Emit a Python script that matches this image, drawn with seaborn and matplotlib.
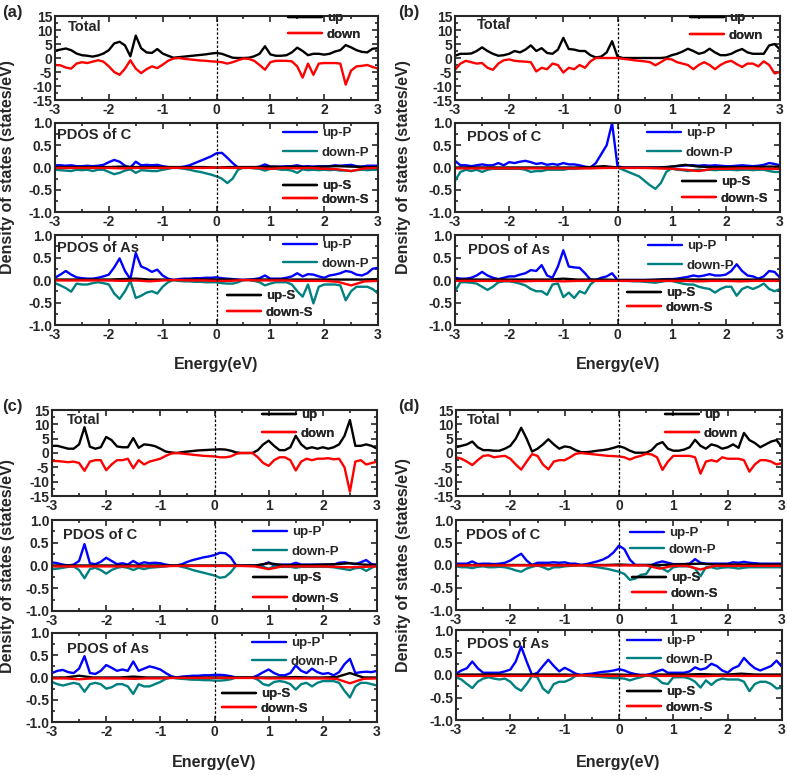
import matplotlib
matplotlib.use('Agg')
import matplotlib.pyplot as plt
import numpy as np
import seaborn as sns
from matplotlib.ticker import MultipleLocator, FormatStrFormatter

sns.set_style('ticks')
plt.rcParams['font.family'] = ['Liberation Sans', 'DejaVu Sans']
plt.rcParams['font.weight'] = 'bold'
plt.rcParams['axes.unicode_minus'] = False

# energy grids (eV): fine grid for total / p states, coarse grid for s states
E = np.round(np.arange(-3, 3.001, 0.1), 2)
E_S = np.round(np.arange(-3, 3.001, 0.25), 2)

# ----------------------------------------------------------------------------
#   (a)
# ----------------------------------------------------------------------------
a_tot_up = [2.6, 3.0, 3.4, 2.8, 1.6, 1.0, 0.8, 0.5, 0.9, 1.6,
            2.8, 5.2, 5.8, 4.5, 0.6, 8.0, 3.5, 2.0, 1.8, 3.2,
            1.6, 0.8, 0.1, 0.3, 0.5, 0.7, 0.9, 1.1, 1.3, 1.6,
            1.8, 1.5, 0.8, 0.1, 0.0, 0.0, 0.1, 0.6, 1.5, 4.2,
            1.3, 0.8, 0.8, 1.0, 2.0, 3.7, 2.5, 1.0, 1.5, 1.5,
            1.2, 1.5, 2.3, 2.8, 4.6, 3.8, 2.8, 2.2, 2.0, 3.3,
            3.5]
a_tot_dn = [-2.5, -2.6, -3.4, -3.8, -2.0, -1.5, -1.8, -1.3, -0.8, -1.3,
            -3.0, -5.0, -6.0, -3.8, -0.8, -3.8, -5.4, -4.0, -3.0, -3.6,
            -2.4, -1.0, -0.2, 0.0, -0.3, -0.5, -0.7, -0.9, -1.0, -1.2,
            -1.3, -1.5, -2.0, -1.5, -0.8, -0.2, -0.3, -1.0, -2.5, -4.2,
            -1.5, -1.0, -1.0, -1.0, -1.2, -3.0, -7.0, -2.0, -6.0, -2.0,
            -1.8, -1.8, -1.8, -2.0, -9.5, -4.5, -3.0, -2.8, -2.5, -3.2,
            -3.8]
a_c_upP = [0.05, 0.05, 0.04, 0.05, 0.03, 0.03, 0.04, 0.03, 0.04, 0.06,
           0.12, 0.17, 0.13, 0.04, 0.0, 0.13, 0.05, 0.06, 0.05, 0.06,
           0.03, 0.01, 0.0, 0.0, 0.02, 0.05, 0.1, 0.15, 0.2, 0.25,
           0.32, 0.33, 0.22, 0.1, 0.0, 0.0, 0.0, 0.0, 0.02, 0.07,
           0.02, 0.02, 0.02, 0.03, 0.03, 0.05, 0.02, 0.03, 0.02, 0.03,
           0.03, 0.03, 0.05, 0.04, 0.05, 0.06, 0.03, 0.02, 0.04, 0.04,
           0.04]
a_c_dnP = [-0.05, -0.06, -0.07, -0.08, -0.05, -0.06, -0.05, -0.08, -0.05, -0.05,
           -0.1, -0.15, -0.12, -0.07, -0.04, -0.12, -0.06, -0.07, -0.08, -0.08,
           -0.05, -0.03, 0.0, -0.01, -0.03, -0.05, -0.08, -0.1, -0.13, -0.16,
           -0.2, -0.25, -0.35, -0.25, -0.05, 0.0, 0.0, -0.02, -0.03, -0.07,
           -0.03, -0.03, -0.05, -0.05, -0.07, -0.12, -0.04, -0.06, -0.05, -0.06,
           -0.05, -0.06, -0.05, -0.07, -0.07, -0.08, -0.06, -0.05, -0.06, -0.05,
           -0.05]
a_c_upS = [0.01, 0.01, 0.01, 0.01, 0.01, 0.02, 0.01, 0.01, 0.01, 0.01, 0.01, 0.01, 0.0,
           0.01, 0.01, 0.01, 0.02, 0.01, 0.02, 0.01, 0.02, 0.03, 0.02, 0.01, 0.01]
a_c_dnS = [-0.01, -0.01, -0.01, -0.01, -0.01, -0.02, -0.01, -0.01, -0.01, -0.01, -0.01, -0.01, 0.0,
           -0.01, -0.01, -0.01, -0.03, -0.01, -0.02, -0.01, -0.03, -0.04, -0.08, -0.02, -0.01]
a_as_upP = [0.05, 0.12, 0.2, 0.12, 0.06, 0.04, 0.03, 0.03, 0.05, 0.08,
            0.12, 0.28, 0.48, 0.2, 0.02, 0.6, 0.3, 0.25, 0.18, 0.23,
            0.1, 0.03, 0.0, 0.02, 0.03, 0.03, 0.04, 0.04, 0.05, 0.05,
            0.06, 0.04, 0.03, 0.02, 0.01, 0.0, 0.01, 0.02, 0.04, 0.1,
            0.03, 0.03, 0.03, 0.05, 0.08, 0.15, 0.08, 0.13, 0.12, 0.08,
            0.05, 0.1, 0.12, 0.15, 0.2, 0.18, 0.12, 0.1, 0.15, 0.25,
            0.27]
a_as_dnP = [-0.07, -0.12, -0.18, -0.26, -0.08, -0.1, -0.1, -0.07, -0.05, -0.07,
            -0.1, -0.3, -0.42, -0.25, -0.02, -0.4, -0.35, -0.28, -0.25, -0.3,
            -0.15, -0.05, 0.0, -0.02, -0.03, -0.03, -0.04, -0.04, -0.05, -0.05,
            -0.05, -0.07, -0.08, -0.08, -0.05, 0.0, 0.0, -0.02, -0.05, -0.12,
            -0.08, -0.05, -0.05, -0.05, -0.1, -0.25, -0.37, -0.1, -0.52, -0.15,
            -0.1, -0.1, -0.1, -0.12, -0.45, -0.25, -0.15, -0.15, -0.15, -0.2,
            -0.3]
a_as_upS = [0.01, 0.01, 0.01, 0.01, 0.01, 0.02, 0.03, 0.01, 0.01, 0.0, 0.01, 0.01, 0.01,
            0.01, 0.0, 0.01, 0.01, 0.01, 0.01, 0.01, 0.01, 0.01, 0.01, 0.01, 0.02]
a_as_dnS = [-0.01, -0.01, -0.01, -0.01, -0.01, -0.02, -0.01, -0.03, -0.01, 0.0, -0.01, -0.01, -0.02,
            -0.02, 0.0, -0.01, -0.01, -0.01, -0.02, -0.02, -0.02, -0.04, -0.12, -0.03, -0.02]

# ----------------------------------------------------------------------------
#   (b)
# ----------------------------------------------------------------------------
b_tot_up = [0.8, 1.5, 1.5, 1.6, 2.5, 3.8, 2.5, 1.5, 0.8, 1.0,
            1.5, 2.5, 2.0, 3.0, 4.5, 2.5, 3.5, 1.8, 1.5, 3.0,
            7.2, 3.2, 3.0, 2.5, 2.5, 1.0, 0.2, 0.5, 2.0, 6.0,
            0.5, 0.0, 0.0, 0.0, 0.0, 0.0, 0.0, 0.0, 0.0, 0.2,
            1.0, 1.5, 2.3, 3.3, 2.5, 1.5, 2.0, 3.3, 2.0, 1.0,
            1.0, 1.5, 2.5, 3.2, 2.0, 1.5, 1.5, 1.5, 4.5, 5.0,
            3.0]
b_tot_dn = [-4.2, -2.0, -1.0, -1.5, -2.0, -1.8, -3.5, -4.2, -2.0, -0.8,
            -0.5, -1.0, -1.2, -1.3, -1.5, -4.8, -3.5, -4.0, -2.0, -2.5,
            -5.2, -3.5, -4.0, -2.5, -3.5, -1.2, 0.0, 0.0, 0.0, 0.0,
            0.0, -0.3, -0.5, -0.8, -1.0, -1.2, -1.5, -2.6, -1.5, -0.3,
            -0.5, -1.5, -2.0, -2.5, -4.0, -2.5, -1.5, -2.5, -4.0, -2.5,
            -1.5, -1.0, -2.2, -3.2, -2.0, -2.0, -3.0, -1.2, -2.5, -5.5,
            -5.0]
b_c_upP = [0.15, 0.05, 0.05, 0.03, 0.05, 0.07, 0.05, 0.05, 0.1, 0.05,
           0.12, 0.1, 0.13, 0.15, 0.12, 0.08, 0.1, 0.06, 0.08, 0.06,
           0.1, 0.07, 0.07, 0.05, 0.02, 0.0, 0.1, 0.3, 0.5, 1.0,
           0.03, 0.0, 0.0, 0.0, 0.0, 0.0, 0.0, 0.0, 0.0, 0.0,
           0.02, 0.03, 0.04, 0.05, 0.05, 0.04, 0.05, 0.04, 0.05, 0.04,
           0.03, 0.03, 0.04, 0.05, 0.04, 0.03, 0.04, 0.06, 0.1, 0.08,
           0.05]
b_c_dnP = [-0.3, -0.1, -0.05, -0.08, -0.05, -0.1, -0.05, -0.03, -0.03, -0.03,
           -0.03, -0.03, -0.03, -0.05, -0.1, -0.08, -0.08, -0.05, -0.05, -0.05,
           -0.05, -0.03, -0.03, -0.02, -0.01, 0.0, 0.0, 0.0, 0.0, 0.0,
           0.0, -0.05, -0.1, -0.15, -0.2, -0.3, -0.4, -0.48, -0.35, -0.1,
           -0.02, -0.05, -0.06, -0.08, -0.06, -0.05, -0.06, -0.05, -0.06, -0.05,
           -0.05, -0.05, -0.06, -0.05, -0.05, -0.06, -0.05, -0.05, -0.08, -0.1,
           -0.1]
b_c_upS = [0.0, 0.0, 0.0, 0.0, 0.0, 0.0, 0.0, 0.0, 0.0, 0.0, 0.01, 0.03, 0.0,
           0.0, 0.0, 0.0, 0.02, 0.06, 0.02, 0.01, 0.01, 0.01, 0.01, 0.02, 0.02]
b_c_dnS = [-0.02, -0.02, -0.02, -0.02, -0.02, -0.02, -0.02, -0.02, -0.02, -0.02, -0.02, -0.01, -0.01,
           -0.01, -0.01, -0.02, -0.03, -0.05, -0.08, -0.03, -0.03, -0.02, -0.02, -0.03, -0.03]
b_as_upP = [0.05, 0.03, 0.03, 0.05, 0.1, 0.18, 0.1, 0.05, 0.02, 0.05,
            0.08, 0.08, 0.12, 0.15, 0.22, 0.2, 0.33, 0.1, 0.05, 0.3,
            0.66, 0.3, 0.28, 0.27, 0.15, 0.01, 0.0, 0.05, 0.08, 0.15,
            0.0, 0.0, 0.0, 0.0, 0.0, 0.0, 0.0, 0.0, 0.01, 0.02,
            0.02, 0.03, 0.05, 0.07, 0.1, 0.08, 0.1, 0.13, 0.1, 0.1,
            0.12, 0.2, 0.35, 0.2, 0.1, 0.08, 0.03, 0.08, 0.2, 0.18,
            0.05]
b_as_dnP = [-0.25, -0.05, -0.05, -0.06, -0.08, -0.15, -0.22, -0.15, -0.05, -0.03,
            -0.03, -0.05, -0.08, -0.12, -0.2, -0.25, -0.25, -0.33, -0.1, -0.08,
            -0.38, -0.28, -0.4, -0.25, -0.3, -0.1, 0.0, -0.01, -0.01, -0.01,
            -0.01, -0.02, -0.02, -0.03, -0.03, -0.04, -0.05, -0.06, -0.04, -0.02,
            -0.02, -0.05, -0.08, -0.1, -0.1, -0.15, -0.18, -0.2, -0.28, -0.2,
            -0.15, -0.15, -0.35, -0.2, -0.15, -0.2, -0.15, -0.08, -0.2, -0.25,
            -0.2]
b_as_upS = [0.01, 0.01, 0.01, 0.01, 0.01, 0.01, 0.01, 0.01, 0.03, 0.01, 0.01, 0.01, 0.0,
            0.0, 0.0, 0.01, 0.01, 0.01, 0.01, 0.01, 0.01, 0.01, 0.01, 0.01, 0.01]
b_as_dnS = [-0.02, -0.02, -0.02, -0.02, -0.02, -0.03, -0.02, -0.02, -0.03, -0.02, -0.02, -0.02, -0.02,
            -0.02, -0.02, -0.02, -0.02, -0.02, -0.03, -0.02, -0.02, -0.03, -0.02, -0.02, -0.02]

# ----------------------------------------------------------------------------
#   (c)
# ----------------------------------------------------------------------------
c_tot_up = [2.5, 2.5, 2.0, 1.5, 1.5, 3.0, 9.0, 2.2, 1.5, 2.0,
            5.6, 4.5, 2.3, 2.0, 2.0, 5.2, 1.8, 3.0, 2.8, 2.4,
            1.5, 0.5, 0.2, 0.0, 0.3, 0.5, 0.7, 0.9, 1.0, 1.1,
            1.2, 1.3, 1.2, 0.8, 0.2, 0.0, 0.0, 0.0, 1.0, 3.0,
            4.3, 2.5, 1.0, 1.0, 2.0, 6.0, 3.0, 1.5, 2.0, 1.5,
            2.0, 1.5, 2.0, 3.0, 6.0, 11.5, 2.5, 2.5, 3.0, 2.5,
            1.5]
c_tot_dn = [-2.8, -2.8, -3.0, -3.2, -3.0, -3.5, -6.2, -3.0, -2.5, -2.5,
            -6.0, -4.0, -2.5, -2.5, -2.0, -5.3, -2.5, -4.0, -3.0, -2.5,
            -2.0, -1.0, -0.2, 0.0, -0.2, -0.4, -0.6, -0.8, -1.0, -1.1,
            -1.2, -1.5, -1.5, -1.2, -0.3, 0.0, 0.0, 0.0, -1.5, -3.5,
            -4.5, -2.5, -1.5, -1.5, -2.5, -6.1, -3.0, -2.0, -2.5, -2.0,
            -2.0, -1.8, -2.2, -2.0, -5.0, -13.5, -3.0, -2.5, -4.0, -3.5,
            -3.0]
c_c_upP = [0.07, 0.05, 0.02, 0.0, 0.02, 0.1, 0.47, 0.05, 0.03, 0.08,
           0.17, 0.1, 0.03, 0.05, 0.02, 0.1, 0.03, 0.07, 0.05, 0.06,
           0.05, 0.02, 0.0, 0.0, 0.03, 0.08, 0.12, 0.15, 0.18, 0.2,
           0.23, 0.28, 0.27, 0.18, 0.0, 0.0, 0.0, 0.0, 0.0, 0.02,
           0.07, 0.0, 0.02, 0.02, 0.02, 0.06, 0.02, 0.02, 0.02, 0.02,
           0.02, 0.02, 0.02, 0.06, 0.07, 0.05, 0.03, 0.07, 0.12, 0.03,
           0.02]
c_c_dnP = [-0.08, -0.07, -0.05, -0.03, -0.02, -0.1, -0.28, -0.08, -0.05, -0.1,
           -0.18, -0.1, -0.05, -0.03, -0.05, -0.1, -0.05, -0.08, -0.05, -0.04,
           -0.03, -0.02, 0.0, 0.0, -0.03, -0.06, -0.1, -0.13, -0.16, -0.19,
           -0.22, -0.27, -0.25, -0.15, 0.0, 0.0, 0.0, 0.0, -0.01, -0.03,
           -0.07, -0.02, -0.03, -0.03, -0.03, -0.05, -0.03, -0.03, -0.03, -0.03,
           -0.03, -0.03, -0.04, -0.06, -0.08, -0.1, -0.06, -0.05, -0.12, -0.05,
           0.0]
c_c_upS = [0.0, 0.0, 0.0, 0.0, 0.0, 0.0, 0.0, 0.0, 0.0, 0.0, 0.0, 0.0, 0.0,
           0.0, 0.0, 0.0, 0.05, 0.01, 0.01, 0.01, 0.02, 0.03, 0.05, 0.02, 0.01]
c_c_dnS = [-0.02, -0.02, -0.02, -0.02, -0.02, -0.02, -0.02, -0.02, -0.02, -0.01, -0.01, -0.01, -0.01,
           -0.01, -0.01, -0.02, -0.08, -0.02, -0.02, -0.02, -0.02, -0.03, -0.04, -0.03, -0.02]
c_as_upP = [0.1, 0.15, 0.17, 0.12, 0.1, 0.2, 0.48, 0.1, 0.08, 0.15,
            0.28, 0.22, 0.15, 0.18, 0.15, 0.36, 0.15, 0.2, 0.25, 0.22,
            0.18, 0.1, 0.03, 0.0, 0.02, 0.03, 0.04, 0.04, 0.05, 0.05,
            0.06, 0.06, 0.05, 0.03, 0.0, 0.0, 0.0, 0.0, 0.05, 0.12,
            0.18, 0.1, 0.05, 0.05, 0.1, 0.27, 0.15, 0.1, 0.2, 0.12,
            0.08, 0.1, 0.05, 0.12, 0.3, 0.42, 0.1, 0.12, 0.13, 0.12,
            0.15]
c_as_dnP = [-0.1, -0.15, -0.18, -0.15, -0.12, -0.15, -0.32, -0.15, -0.12, -0.15,
            -0.25, -0.22, -0.15, -0.15, -0.2, -0.37, -0.15, -0.2, -0.2, -0.15,
            -0.1, -0.03, 0.0, -0.02, -0.03, -0.04, -0.05, -0.05, -0.06, -0.06,
            -0.07, -0.07, -0.06, -0.04, 0.0, 0.0, 0.0, 0.0, -0.05, -0.15,
            -0.18, -0.1, -0.08, -0.1, -0.15, -0.27, -0.15, -0.12, -0.2, -0.12,
            -0.08, -0.08, -0.08, -0.12, -0.3, -0.45, -0.2, -0.12, -0.12, -0.15,
            -0.18]
c_as_upS = [0.0, 0.0, 0.04, 0.0, 0.0, 0.0, 0.02, 0.0, 0.0, 0.0, 0.0, 0.0, 0.0,
            0.0, 0.0, 0.0, 0.0, 0.0, 0.01, 0.0, 0.0, 0.01, 0.1, 0.0, 0.0]
c_as_dnS = [-0.02, -0.02, -0.04, -0.02, -0.02, -0.02, -0.03, -0.02, -0.02, -0.01, -0.01, -0.01, -0.01,
            -0.01, -0.01, -0.01, -0.02, -0.02, -0.02, -0.02, -0.02, -0.03, -0.13, -0.03, -0.02]

# ----------------------------------------------------------------------------
#   (d)
# ----------------------------------------------------------------------------
d_tot_up = [2.0, 2.5, 3.0, 4.0, 2.0, 1.0, 1.0, 0.8, 0.8, 1.5,
            2.5, 5.0, 8.8, 5.0, 0.5, 1.5, 3.0, 4.8, 3.0, 1.5,
            2.3, 2.0, 1.0, 0.3, 0.3, 0.5, 0.8, 1.0, 1.3, 1.8,
            2.4, 1.8, 0.8, 0.1, 0.1, 0.1, 1.0, 3.0, 3.8, 1.5,
            0.8, 0.8, 1.2, 2.0, 4.6, 2.5, 1.5, 3.0, 2.5, 1.5,
            2.0, 3.0, 1.8, 7.0, 4.5, 3.5, 2.0, 3.0, 4.0, 4.5,
            2.0]
d_tot_dn = [-1.5, -2.0, -3.0, -4.2, -2.5, -1.0, -0.8, -1.5, -1.2, -1.0,
            -2.0, -4.0, -5.8, -3.0, -0.4, -1.0, -4.0, -5.7, -3.0, -2.5,
            -2.5, -1.5, -0.3, 0.0, -0.2, -0.4, -0.6, -0.8, -1.0, -1.1,
            -1.2, -1.5, -2.3, -1.5, -1.0, -0.3, -0.5, -1.5, -5.9, -3.0,
            -1.0, -1.0, -1.0, -1.0, -1.5, -7.2, -3.0, -2.5, -3.0, -1.5,
            -2.0, -2.0, -2.0, -2.5, -6.5, -4.0, -2.5, -2.5, -3.0, -4.0,
            -3.5]
d_c_upP = [0.03, 0.03, 0.03, 0.08, 0.02, 0.03, 0.03, 0.02, 0.03, 0.05,
           0.1, 0.18, 0.25, 0.1, 0.0, 0.05, 0.05, 0.05, 0.06, 0.05,
           0.06, 0.03, 0.03, 0.0, 0.02, 0.05, 0.08, 0.12, 0.18, 0.28,
           0.43, 0.35, 0.12, 0.0, 0.0, 0.0, 0.0, 0.05, 0.08, 0.05,
           0.02, 0.02, 0.02, 0.03, 0.13, 0.05, 0.03, 0.03, 0.03, 0.03,
           0.03, 0.06, 0.05, 0.07, 0.05, 0.04, 0.03, 0.03, 0.03, 0.03,
           0.03]
d_c_dnP = [-0.03, -0.05, -0.05, -0.07, -0.04, -0.03, -0.05, -0.05, -0.04, -0.05,
           -0.08, -0.12, -0.15, -0.08, -0.04, -0.01, -0.05, -0.1, -0.05, -0.05,
           -0.03, -0.02, -0.01, 0.0, -0.02, -0.03, -0.05, -0.07, -0.09, -0.12,
           -0.15, -0.2, -0.33, -0.3, -0.22, -0.2, -0.02, -0.02, -0.08, -0.15,
           -0.05, -0.03, -0.03, -0.03, -0.08, -0.25, -0.05, -0.05, -0.08, -0.06,
           -0.05, -0.06, -0.08, -0.06, -0.05, -0.05, -0.05, -0.05, -0.05, -0.05,
           -0.05]
d_c_upS = [0.0, 0.0, 0.0, 0.0, 0.0, 0.0, 0.0, 0.0, 0.0, 0.0, 0.0, 0.0, 0.01,
           0.0, 0.0, 0.0, 0.01, 0.02, 0.03, 0.01, 0.01, 0.01, 0.01, 0.01, 0.01]
d_c_dnS = [-0.01, -0.01, -0.01, -0.01, -0.01, -0.01, -0.01, -0.01, -0.01, -0.01, -0.01, -0.01, -0.01,
           -0.01, -0.01, -0.08, -0.02, -0.02, -0.1, -0.02, -0.02, -0.02, -0.02, -0.02, -0.02]
d_as_upP = [0.03, 0.1, 0.15, 0.3, 0.15, 0.05, 0.05, 0.05, 0.05, 0.08,
            0.12, 0.3, 0.63, 0.3, 0.0, 0.05, 0.2, 0.34, 0.2, 0.08,
            0.16, 0.1, 0.03, 0.0, 0.02, 0.03, 0.05, 0.07, 0.08, 0.1,
            0.13, 0.1, 0.05, 0.02, 0.0, 0.0, 0.03, 0.08, 0.12, 0.05,
            0.05, 0.05, 0.05, 0.08, 0.17, 0.12, 0.15, 0.25, 0.2, 0.1,
            0.05, 0.15, 0.2, 0.38, 0.25, 0.15, 0.1, 0.15, 0.2, 0.32,
            0.18]
d_as_dnP = [-0.05, -0.1, -0.2, -0.29, -0.15, -0.08, -0.05, -0.08, -0.1, -0.08,
            -0.15, -0.28, -0.35, -0.2, -0.02, -0.05, -0.3, -0.4, -0.2, -0.15,
            -0.15, -0.1, -0.02, 0.0, -0.02, -0.03, -0.04, -0.05, -0.06, -0.07,
            -0.07, -0.08, -0.12, -0.08, -0.05, -0.01, -0.03, -0.08, -0.18, -0.2,
            -0.05, -0.05, -0.05, -0.08, -0.15, -0.28, -0.12, -0.22, -0.12, -0.08,
            -0.1, -0.1, -0.1, -0.15, -0.36, -0.2, -0.15, -0.15, -0.2, -0.3,
            -0.28]
d_as_upS = [0.01, 0.01, 0.01, 0.01, 0.01, 0.01, 0.01, 0.01, 0.01, 0.0, 0.0, 0.01, 0.01,
            0.0, 0.0, 0.01, 0.01, 0.01, 0.02, 0.01, 0.01, 0.03, 0.01, 0.01, 0.01]
d_as_dnS = [-0.02, -0.02, -0.02, -0.02, -0.02, -0.02, -0.02, -0.02, -0.02, -0.01, -0.01, -0.02, -0.02,
            -0.02, -0.01, -0.02, -0.02, -0.02, -0.03, -0.02, -0.02, -0.02, -0.02, -0.02, -0.02]

panels = {
    'a': [(a_tot_up, a_tot_dn), (a_c_upP, a_c_dnP, a_c_upS, a_c_dnS), (a_as_upP, a_as_dnP, a_as_upS, a_as_dnS)],
    'b': [(b_tot_up, b_tot_dn), (b_c_upP, b_c_dnP, b_c_upS, b_c_dnS), (b_as_upP, b_as_dnP, b_as_upS, b_as_dnS)],
    'c': [(c_tot_up, c_tot_dn), (c_c_upP, c_c_dnP, c_c_upS, c_c_dnS), (c_as_upP, c_as_dnP, c_as_upS, c_as_dnS)],
    'd': [(d_tot_up, d_tot_dn), (d_c_upP, d_c_dnP, d_c_upS, d_c_dnS), (d_as_upP, d_as_dnP, d_as_upS, d_as_dnS)],
}

# ----------------------------------------------------------------------------
#   Layout (figure pixels)
# ----------------------------------------------------------------------------
W, H = 787, 775
# per panel: x-range of axes, three (top, bottom) rows
layout = {
    'a': dict(x=(55, 378), rows=[(16, 100), (123, 212), (235, 325)]),
    'b': dict(x=(455, 780), rows=[(16, 100), (123, 212), (235, 325)]),
    'c': dict(x=(52, 377), rows=[(410, 496), (520, 611), (633, 722)]),
    'd': dict(x=(456, 782), rows=[(410, 496), (520, 610), (630, 720)]),
}
# title text (x, y) per row
titles = {
    'a': [(68, 27), (57, 135), (57, 248)],
    'b': [(477, 25), (467, 137), (468, 250)],
    'c': [(67, 420), (63, 535), (67, 649)],
    'd': [(467, 420), (466, 535), (467, 644)],
}
# legend (x of line start, y of first entry, y of second entry)
legs = {
    'a': [(288, 18, 35), (283, 133, 153), (283, 186, 200), (283, 245, 264), (227, 296, 313)],
    'b': [(690, 18, 36), (647, 133, 153), (682, 182, 199), (648, 246, 266), (627, 293, 308)],
    'c': [(262, 415, 434), (253, 532, 552), (253, 578, 599), (252, 643, 662), (222, 694, 709)],
    'd': [(665, 415, 434), (630, 533, 550), (632, 578, 594), (627, 641, 660), (627, 692, 708)],
}
corner = {'a': (2, 13), 'b': (398, 13), 'c': (2, 407), 'd': (398, 407)}
ylab_pos = {'a': (8, 167), 'b': (404, 167), 'c': (8, 566), 'd': (404, 565)}
xlab_pos = {'a': (216, 365), 'b': (618, 365), 'c': (214, 762), 'd': (618, 762)}

BLUE, TEAL, RED, BLACK = '#0000ff', '#008080', '#ff0000', '#000000'
LW = 1.7
LEG_FS = 9.5


def to_axes(rect_x, row, xp, yp):
    l, r = rect_x
    t, b = row
    return (xp - l) / (r - l), (b - yp) / (b - t)


def add_legend(ax, handles, labels, spec, rect_x, row):
    xp, y1, y2 = spec
    xa, ya = to_axes(rect_x, row, xp, (y1 + y2) / 2)
    fs_px = LEG_FS * 100 / 72
    ls = (y2 - y1 - 0.95 * fs_px) / fs_px
    leg = ax.legend(handles, labels, loc='center left', bbox_to_anchor=(xa, ya),
                    frameon=False, fontsize=LEG_FS, handlelength=2.6, handletextpad=0.35,
                    labelspacing=ls, borderpad=0, borderaxespad=0)
    ax.add_artist(leg)


def style(ax, total):
    ax.set_xlim(-3, 3)
    ax.set_xticks(range(-3, 4))
    ax.xaxis.set_minor_locator(MultipleLocator(0.5))
    if total:
        ax.set_ylim(-15, 15)
        ax.set_yticks(range(-15, 16, 5))
        ax.yaxis.set_minor_locator(MultipleLocator(2.5))
    else:
        ax.set_ylim(-1, 1)
        ax.set_yticks([-1, -0.5, 0, 0.5, 1])
        ax.yaxis.set_major_formatter(FormatStrFormatter('%.1f'))
        ax.yaxis.set_minor_locator(MultipleLocator(0.25))
    ax.tick_params(which='both', direction='in', top=True, right=True, width=1.2,
                   labelsize=10, pad=2)
    ax.tick_params(which='major', length=4.5)
    ax.tick_params(which='minor', length=2.5)
    for s in ax.spines.values():
        s.set_linewidth(1.5)
    ax.axvline(0, color='k', ls=(0, (2, 1.5)), lw=0.9)
    ax.set_xlabel('')
    ax.set_ylabel('')


fig = plt.figure(figsize=(W / 100, H / 100), dpi=100)

for key, (tot, pc, pas) in panels.items():
    lay = layout[key]
    rx = lay['x']
    axes = []
    for row in lay['rows']:
        l, r = rx
        t, b = row
        axes.append(fig.add_axes([l / W, 1 - b / H, (r - l) / W, (b - t) / H]))

    # Total
    ax = axes[0]
    h = []
    for vals, col in zip(tot, (BLACK, RED)):
        sns.lineplot(x=E, y=vals, ax=ax, color=col, lw=LW, estimator=None, legend=False)
        h.append(ax.lines[-1])
    style(ax, True)
    add_legend(ax, h, ['up', 'down'], legs[key][0], rx, lay['rows'][0])

    # PDOS
    for i, (ax, data) in enumerate(zip(axes[1:], (pc, pas))):
        row = lay['rows'][i + 1]
        h = []
        for vals, col, grid in zip(data, (BLUE, TEAL, BLACK, RED), (E, E, E_S, E_S)):
            sns.lineplot(x=grid, y=vals, ax=ax, color=col, lw=LW, estimator=None, legend=False)
            h.append(ax.lines[-1])
        style(ax, False)
        add_legend(ax, h[:2], ['up-P', 'down-P'], legs[key][1 + 2 * i], rx, row)
        add_legend(ax, h[2:], ['up-S', 'down-S'], legs[key][2 + 2 * i], rx, row)

    for ax, row, (tx, ty), name in zip(axes, lay['rows'], titles[key],
                                       ('Total', 'PDOS of C', 'PDOS of As')):
        xa, ya = to_axes(rx, row, tx, ty)
        ax.text(xa, ya, name, transform=ax.transAxes, ha='left', va='center',
                fontsize=10.5, fontweight='bold')

    cx, cy = corner[key]
    fig.text(cx / W, 1 - cy / H, f'({key})', ha='left', va='center', fontsize=12, fontweight='bold')
    yx, yy = ylab_pos[key]
    fig.text(yx / W, 1 - yy / H, 'Density of states (states/eV)', rotation=90,
             ha='center', va='center', fontsize=11.5, fontweight='bold')
    xx, xy = xlab_pos[key]
    fig.text(xx / W, 1 - xy / H, 'Energy(eV)', ha='center', va='center',
             fontsize=11.5, fontweight='bold')

fig.savefig('out.png', dpi=100)
